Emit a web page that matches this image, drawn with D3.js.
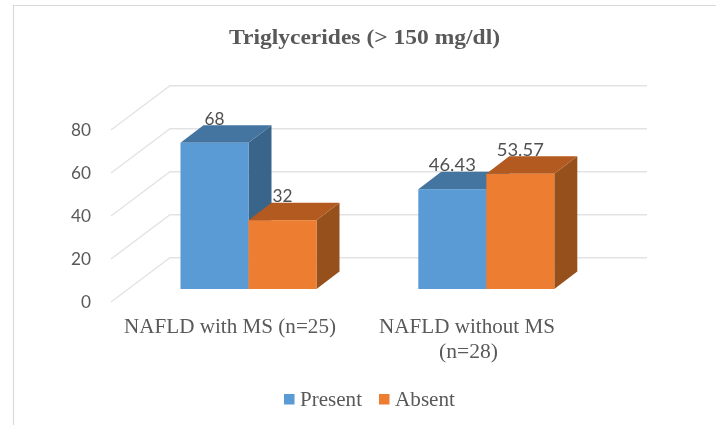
<!DOCTYPE html>
<html><head><meta charset="utf-8">
<script src="https://cdn.jsdelivr.net/npm/d3@7/dist/d3.min.js"></script>
<style>html,body{margin:0;padding:0;background:#fff}svg{display:block;filter:blur(0.45px)}</style>
</head><body><svg id="c" width="719" height="425"></svg>
<script>
const categories = ["NAFLD with MS (n=25)", "NAFLD without MS (n=28)"];
const seriesNames = ["Present", "Absent"];
const present = [68, 46.43];
const absent = [32, 53.57];
const valueLabels = [["68","32"],["46.43","53.57"]];
const yTicks = [0, 20, 40, 60, 80];

const W = 719, H = 425;
const svg = d3.select("#c");
const serif = "'Liberation Serif', serif", sans = "Lato, 'Open Sans', sans-serif";
const fronts = ["#5b9bd5", "#ed7d31"], tops = ["#4474a0", "#b35a20"], sides = ["#39658a", "#95501b"];

const y = d3.scaleLinear().domain([0, 80]).range([302, 130]);
const wall = {dx: 59, dy: -44.3}, depth = {dx: 23, dy: -17.5}, barLift = -13;
const x0 = d3.scalePoint().domain(categories).range([180.5, 418.3]);
const bw = 68;

// chart frame
svg.append("path").attr("d", `M13.5,${H}V5.5H716`).attr("fill", "none").attr("stroke", "#d9d9d9").attr("stroke-width", 1.2);

// title
svg.append("text").attr("x", 229).attr("y", 44)
  .attr("font-family", serif).attr("font-weight", "bold").attr("font-size", 21).attr("fill", "#595959")
  .attr("textLength", 271).attr("lengthAdjust", "spacingAndGlyphs")
  .text("Triglycerides (> 150 mg/dl)");

// gridlines
svg.append("g").selectAll("path").data(yTicks).join("path")
  .attr("d", v => `M111,${y(v)}L${111 + wall.dx},${y(v) + wall.dy}H647`)
  .attr("fill", "none").attr("stroke", "#e3e3e3").attr("stroke-width", 1.4);

// y axis labels
const axis = d3.axisLeft(y).tickValues(yTicks).tickSize(0).tickPadding(0);
const ga = svg.append("g").attr("transform", "translate(91,0)").call(axis);
ga.select(".domain").remove();
ga.selectAll("text").attr("font-family", sans).attr("font-size", 18).attr("fill", "#595959")
  .each(function(d){ d3.select(this).attr("textLength", String(d).length * 10).attr("lengthAdjust", "spacingAndGlyphs"); });

// bars
const rows = categories.map((c, i) => [present[i], absent[i]].map((v, s) => ({c, i, s, v})));
const barG = svg.append("g");
rows.forEach(row => row.forEach(d => {
  const l = x0(d.c) + d.s * bw, r = l + bw, b = y(0) + barLift, t = y(d.v) + barLift;
  const g = barG.append("g").datum(d);
  g.append("path").attr("fill", sides[d.s])
    .attr("d", `M${r},${b}L${r + depth.dx},${b + depth.dy}V${t + depth.dy}L${r},${t}Z`);
  g.append("path").attr("fill", tops[d.s])
    .attr("d", `M${l},${t}L${l + depth.dx},${t + depth.dy}H${r + depth.dx}L${r},${t}Z`);
  g.append("rect").attr("x", l).attr("y", t).attr("width", bw).attr("height", b - t).attr("fill", fronts[d.s]);
}));

// value labels
rows.forEach(row => row.forEach(d => {
  const label = valueLabels[d.i][d.s];
  svg.append("text").attr("x", x0(d.c) + d.s * bw + 34).attr("y", y(d.v) + barLift - 18)
    .attr("text-anchor", "middle").attr("font-family", sans).attr("font-size", 18).attr("fill", "#505050")
    .attr("textLength", label.length === 2 ? 20 : 47).attr("lengthAdjust", "spacingAndGlyphs")
    .text(label);
}));

// category labels
const catText = svg.append("g").attr("font-family", serif).attr("font-size", 20).attr("fill", "#595959")
  .attr("lengthAdjust", "spacingAndGlyphs");
const stretched = (x, yy, len, s) => catText.append("text").attr("x", x).attr("y", yy)
  .attr("textLength", len).attr("lengthAdjust", "spacingAndGlyphs").text(s);
stretched(124, 332.5, 212, categories[0]);
stretched(379, 332.5, 176, "NAFLD without MS");
stretched(439, 358, 59, "(n=28)");

// legend
const lx = [284, 379], tx = [300, 395], tl = [62, 60];
seriesNames.forEach((n, i) => {
  svg.append("rect").attr("x", lx[i]).attr("y", 394).attr("width", 10.5).attr("height", 10.5).attr("fill", fronts[i]);
  svg.append("text").attr("x", tx[i]).attr("y", 406).attr("font-family", serif).attr("font-size", 20).attr("fill", "#595959")
    .attr("textLength", tl[i]).attr("lengthAdjust", "spacingAndGlyphs").text(n);
});
</script></body></html>
